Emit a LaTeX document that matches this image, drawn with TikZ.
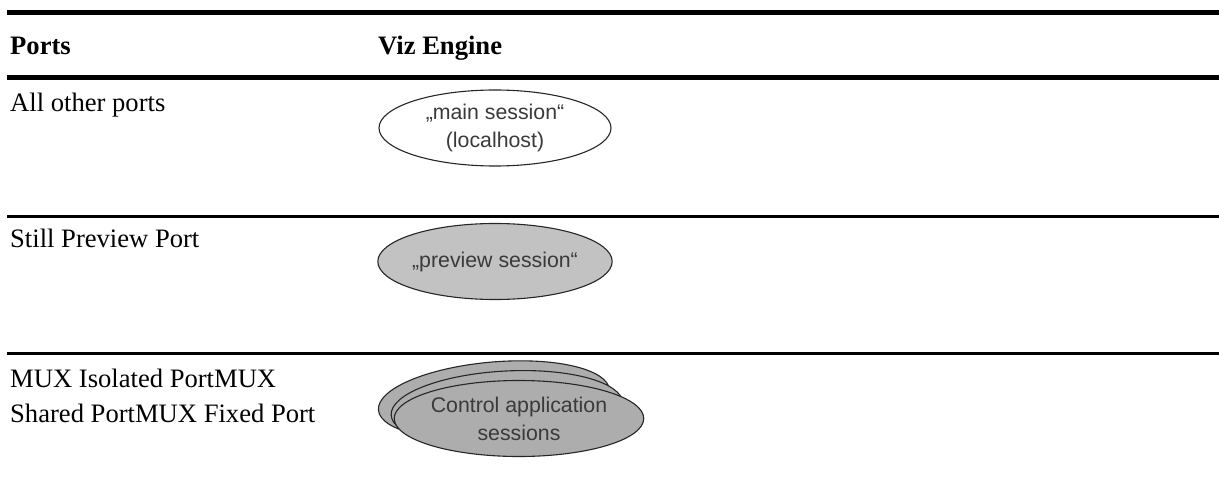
\documentclass[tikz,border=0pt]{standalone}
\usepackage{fontspec}
\setmainfont{Liberation Serif}
\newfontfamily\sessfont{Liberation Sans}
\usetikzlibrary{shapes.geometric}
\definecolor{sessgray}{HTML}{C2C2C2}
\definecolor{ctrlgray}{HTML}{ADADAD}
\definecolor{sesstext}{HTML}{3A3A3A}
\begin{document}
\begin{tikzpicture}
  [x=1pt,y=-1pt,every node/.style={inner sep=0pt,font=\fontsize{26.6}{35}\selectfont}]
  \tikzstyle{port} = [anchor=base west]
  \tikzstyle{head} = [anchor=base west,font=\fontsize{26.6}{35}\selectfont\bfseries]
  \tikzstyle{session} = [ellipse,draw=black!85,line width=1.1pt,minimum width=232pt,minimum height=76pt,align=center,text=sesstext,font=\sessfont\fontsize{21.3}{28}\selectfont]
  \useasboundingbox (0,0) rectangle (1219,497);
  % table rules
  \foreach \y/\w in {12.5/5,77.5/5,216.5/3.2,353.5/3.2}
   \draw[line width=\w pt] (7,\y) -- (1219,\y);
  % header
  \node[head] (hports) at (10,55) {Ports};
  \node[head] (hviz) at (378,55) {Viz Engine};
  % ports column
  \node[port] (p1) at (10,112) {All other ports};
  \node[port] (p2) at (10,248) {Still Preview Port};
  \node[port] (p3a) at (10,387) {MUX Isolated PortMUX};
  \node[port] (p3b) at (10,422) {Shared PortMUX Fixed Port};
  % sessions
  \node[session,fill=white] (main) at (495,128) {\raisebox{-3pt}{„main session“}\\\raisebox{-3pt}{(localhost)}};
  \node[session,fill=sessgray] (preview) at (495,261.5) {„preview session“};
  \foreach \name/\x/\y/\r in {ctrlback/494/400/5,ctrlmid/507/409/3}
   \node[session,fill=ctrlgray,rotate=\r] (\name) at (\x,\y) {};
  \node[session,fill=ctrlgray] (ctrl) at (519,418.5) {Control application\\sessions};
\end{tikzpicture}
\end{document}
